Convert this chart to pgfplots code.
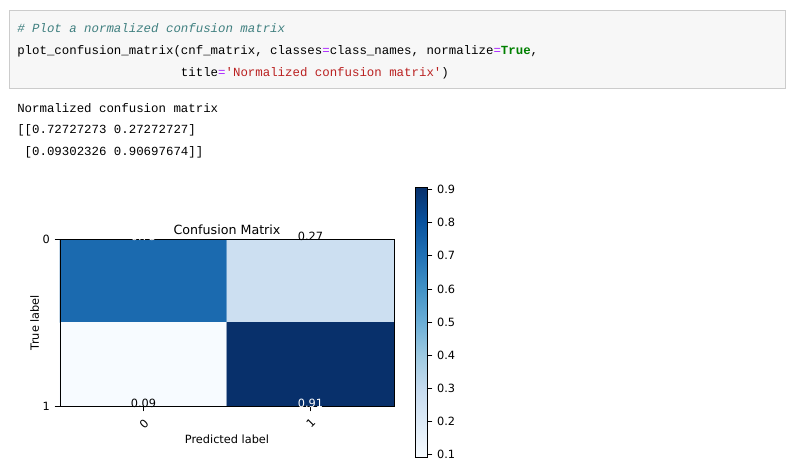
\documentclass[border=0pt]{standalone}
\usepackage{pgfplots}
\pgfplotsset{compat=1.18}
\usepackage{fontspec}
\setmainfont{DejaVu Sans}
\newfontfamily\code{Liberation Mono}
\definecolor{cmt}{HTML}{408080}
\definecolor{eqc}{HTML}{AA22FF}
\definecolor{grn}{HTML}{008000}
\definecolor{strc}{HTML}{BA2121}
\pgfplotsset{colormap={Blues}{rgb255=(247,251,255) rgb255=(222,235,247) rgb255=(198,219,239) rgb255=(158,202,225) rgb255=(107,174,214) rgb255=(66,146,198) rgb255=(33,113,181) rgb255=(8,81,156) rgb255=(8,48,107)}}
\begin{document}
\begin{tikzpicture}[x=0.75pt,y=-0.75pt]
\path[fill=white] (0,0) rectangle (786,472);
\draw[fill=black!3,draw=black!20] (9,10) rectangle (785,88);
\begin{scope}[every node/.style={anchor=base west,inner sep=0pt,font=\code\fontsize{9.3}{11}\selectfont}]
\node at (17,32) {\color{cmt}\itshape \# Plot a normalized confusion matrix};
\node at (17,54) {plot\_confusion\_matrix(cnf\_matrix, classes{\color{eqc}=}class\_names, normalize{\color{eqc}=}{\color{grn}\bfseries True},};
\node at (17,76) {\phantom{plot\_confusion\_matrix(}title{\color{eqc}=}{\color{strc}'Normalized confusion matrix'})};
\node at (17,112) {Normalized confusion matrix};
\node at (17,133) {[[0.72727273 0.27272727]};
\node at (17,155) {\ [0.09302326 0.90697674]]};
\end{scope}
\begin{axis}[
  at={(45pt,-304.5pt)}, anchor=south west,
  scale only axis, width=250.5pt, height=125.25pt,
  xmin=-0.5, xmax=1.5, ymin=0, ymax=1, y dir=reverse,
  xtick={0,1}, ytick={0,1},
  xticklabel style={rotate=45, anchor=north east, font=\fontsize{8.5}{10}\selectfont},
  yticklabel style={font=\fontsize{8.5}{10}\selectfont},
  tick align=outside, tick pos=left, major tick length=4pt,
  tick style={black,thin},
  xlabel={Predicted label}, ylabel={True label},
  label style={font=\fontsize{8.5}{10}\selectfont},
  xlabel style={yshift=4pt}, ylabel style={yshift=-4pt},
  title={Confusion Matrix}, title style={font=\fontsize{9.5}{11}\selectfont, yshift=-6pt},
  colormap name=Blues, point meta min=0.093, point meta max=0.907,
  colorbar,
  colorbar style={at={(1.063,1.311)}, anchor=north west, width=9pt, height=202.5pt,
    ytick={0.1,0.2,...,0.9}, ytick pos=right, yticklabel pos=right,
    yticklabel style={font=\fontsize{8.5}{10}\selectfont,/pgf/number format/fixed,/pgf/number format/precision=1,/pgf/number format/fixed zerofill},
    tick align=outside, major tick length=4pt, /pgf/number format/assume math mode=true},
  /pgf/number format/assume math mode=true,
  clip=true, axis on top,
]
\addplot[matrix plot*, mesh/cols=2, point meta=explicit] coordinates {
(0,0) [0.72727273] (1,0) [0.27272727]
(0,1) [0.09302326] (1,1) [0.90697674]
};
\end{axis}
\begin{axis}[
  at={(45pt,-304.5pt)}, anchor=south west,
  scale only axis, width=250.5pt, height=125.25pt,
  xmin=-0.5, xmax=1.5, ymin=0, ymax=1, y dir=reverse,
  hide axis, clip=false]
\addplot[only marks, mark=none, nodes near coords, point meta=explicit symbolic,
  nodes near coords style={anchor=base, yshift=-1pt, font=\fontsize{8.5}{10}\selectfont, text=black}]
  coordinates {(1,0) [0.27] (0,1) [0.09]};
\addplot[only marks, mark=none, nodes near coords, point meta=explicit symbolic,
  nodes near coords style={anchor=base, yshift=-1pt, font=\fontsize{8.5}{10}\selectfont, text=white}]
  coordinates {(0,0) [0.73] (1,1) [0.91]};
\end{axis}
\end{tikzpicture}
\end{document}
